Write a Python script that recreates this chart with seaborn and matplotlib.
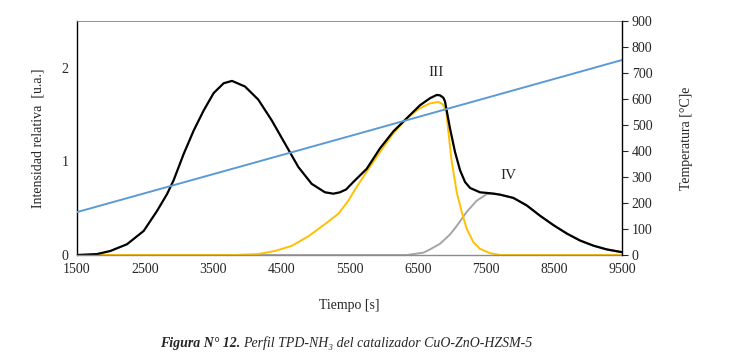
import matplotlib
matplotlib.use("Agg")
import matplotlib.pyplot as plt
import seaborn as sns
import pandas as pd

# ---------------- data ----------------
total_t = [1500, 1794, 1989, 2234, 2479, 2674, 2821, 2919, 3066, 3213, 3360, 3506,
           3653, 3775, 3966, 4161, 4357, 4553, 4749, 4945, 5140, 5263, 5360, 5450,
           5556, 5752, 5948, 6143, 6339, 6535, 6682, 6780, 6830, 6878, 6902, 6976,
           7049, 7123, 7196, 7270, 7415, 7562, 7709, 7905, 8101, 8296, 8492, 8688,
           8883, 9079, 9275, 9500]
total_i = [0.0, 0.01, 0.043, 0.115, 0.257, 0.47, 0.65, 0.80, 1.08, 1.33, 1.545, 1.73,
           1.835, 1.86, 1.80, 1.66, 1.44, 1.19, 0.94, 0.76, 0.67, 0.655, 0.67, 0.70,
           0.78, 0.92, 1.14, 1.32, 1.46, 1.60, 1.675, 1.71, 1.705, 1.68, 1.64, 1.35,
           1.10, 0.905, 0.78, 0.716, 0.67, 0.66, 0.645, 0.61, 0.53, 0.42, 0.32, 0.23,
           0.155, 0.10, 0.06, 0.03]

peak3_t = [1500, 3800, 4161, 4406, 4651, 4896, 5140, 5336, 5483, 5581, 5752, 5948,
           6143, 6339, 6535, 6682, 6804, 6870, 6920, 6951, 7000, 7074, 7147, 7220,
           7318, 7415, 7562, 7709, 9500]
peak3_i = [0.0, 0.0, 0.01, 0.043, 0.097, 0.20, 0.33, 0.44, 0.58, 0.70, 0.89, 1.10,
           1.30, 1.46, 1.57, 1.62, 1.635, 1.61, 1.53, 1.32, 1.0, 0.67, 0.46, 0.28,
           0.137, 0.066, 0.02, 0.0, 0.0]

peak4_t = [1500, 6339, 6584, 6682, 6829, 6976, 7074, 7220, 7367, 7514, 7611, 7709,
           7905, 8101, 8296, 8492, 8688, 8883, 9079, 9275, 9500]
peak4_i = [0.0, 0.0, 0.025, 0.06, 0.12, 0.22, 0.31, 0.46, 0.58, 0.65, 0.66, 0.645,
           0.61, 0.53, 0.42, 0.32, 0.23, 0.155, 0.10, 0.06, 0.03]

temp_t = [1500, 5500, 9500]
temp_c = [165, 457, 750]

x_ticks = [1500, 2500, 3500, 4500, 5500, 6500, 7500, 8500, 9500]
y_ticks = [0, 1, 2]
t_ticks = [0, 100, 200, 300, 400, 500, 600, 700, 800, 900]

labels = [("III", 6770, 1.95), ("IV", 7830, 0.85)]

# ---------------- style ----------------
sns.set_style("white")
plt.rcParams["font.family"] = ["Liberation Serif", "DejaVu Serif"]

fig = plt.figure(figsize=(7.34, 3.60), dpi=100)
ax = fig.add_axes([77 / 734, 1 - 255 / 360, (622 - 77) / 734, (255 - 21) / 360])

df4 = pd.DataFrame({"t": peak4_t, "i": peak4_i})
df3 = pd.DataFrame({"t": peak3_t, "i": peak3_i})
dft = pd.DataFrame({"t": total_t, "i": total_i})
dfT = pd.DataFrame({"t": temp_t, "c": temp_c})

sns.lineplot(data=df4, x="t", y="i", ax=ax, color="#A5A5A5", linewidth=1.4)
sns.lineplot(data=df3, x="t", y="i", ax=ax, color="#FFC000", linewidth=1.4)
sns.lineplot(data=dft, x="t", y="i", ax=ax, color="black", linewidth=1.6)

ax.set_xlim(1500, 9500)
ax.set_ylim(0, 2.5)
ax.set_xticks(x_ticks)
ax.set_xticklabels([str(v) for v in x_ticks])
ax.set_yticks(y_ticks)
ax.set_yticklabels([str(v) for v in y_ticks])
ax.tick_params(axis="both", length=0, labelsize=10, pad=6)
ax.set_xlabel("Tiempo [s]", fontsize=10, labelpad=16)
ax.set_ylabel("Intensidad relativa  [u.a.]", fontsize=10, labelpad=12)

for side in ["left", "right", "top", "bottom"]:
    ax.spines[side].set_linewidth(1.0)
ax.spines["left"].set_color("black")
ax.spines["top"].set_color("#7f7f7f")
ax.spines["top"].set_linewidth(0.6)
ax.spines["bottom"].set_color("#8c8c8c")
ax.spines["right"].set_visible(False)

for txt, xv, yv in labels:
    ax.text(xv, yv, txt, fontsize=11, ha="center", va="center")

ax2 = ax.twinx()
sns.lineplot(data=dfT, x="t", y="c", ax=ax2, color="#5B9BD5", linewidth=1.4)
ax2.set_ylim(0, 900)
ax2.set_yticks(t_ticks)
ax2.set_yticklabels([str(v) for v in t_ticks])
ax2.tick_params(axis="y", direction="out", length=4, width=0.8, labelsize=10, pad=3, right=True)
ax2.set_ylabel("Temperatura [°C]e", fontsize=10, labelpad=20)
ax2.set_xlabel("")
ax2.spines["right"].set_visible(True)
ax2.spines["right"].set_color("black")
ax2.spines["right"].set_linewidth(1.0)
for side in ["left", "top", "bottom"]:
    ax2.spines[side].set_visible(False)

fig.text(0.218, 1 - 343 / 360, "Figura N° 12.", fontsize=10, style="italic",
         weight="bold", ha="left", va="center")
fig.text(0.218 + 0.113, 1 - 343 / 360, "Perfil TPD-NH₃ del catalizador CuO-ZnO-HZSM-5",
         fontsize=10, style="italic", ha="left", va="center")

fig.savefig("out.png", dpi=100)
